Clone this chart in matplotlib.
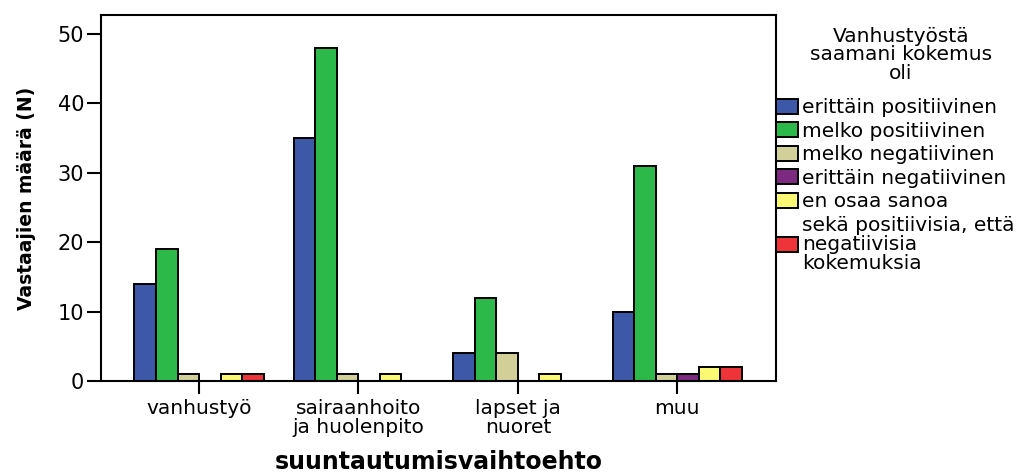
import matplotlib.pyplot as plt
import numpy as np

plt.rcParams['font.family'] = ['DejaVu Sans']

categories = ['vanhustyö', 'sairaanhoito\nja huolenpito', 'lapset ja\nnuoret', 'muu']
series = ['erittäin positiivinen', 'melko positiivinen', 'melko negatiivinen',
          'erittäin negatiivinen', 'en osaa sanoa',
          'sekä positiivisia, että\nnegatiivisia\nkokemuksia']
values = [
    [14, 35, 4, 10],   # erittäin positiivinen
    [19, 48, 12, 31],  # melko positiivinen
    [1, 1, 4, 1],      # melko negatiivinen
    [0, 0, 0, 1],      # erittäin negatiivinen
    [1, 1, 1, 2],      # en osaa sanoa
    [1, 0, 0, 2],      # sekä ... että
]
colors = ['#3E58A8', '#2DB84A', '#D3CF98', '#7B2A80', '#FBF874', '#EE3339']
legend_title = 'Vanhustyöstä\nsaamani kokemus\noli'

fig = plt.figure(figsize=(10.34, 4.73), dpi=100)
ax = fig.add_axes([0.0977, 0.1945, 0.6528, 0.7738])

x = np.arange(len(categories))
w = 0.135
for i, (name, vals, c) in enumerate(zip(series, values, colors)):
    offs = (i - 2.5) * w
    ax.bar(x + offs, vals, w, color=c, edgecolor='black', linewidth=1.4, label=name)

ax.set_xlim(-0.615, 3.62)
ax.set_ylim(0, 52.7)
ax.set_yticks([0, 10, 20, 30, 40, 50])
ax.set_xticks(x)
ax.set_xticklabels(categories, fontsize=14.5, linespacing=1.0)
ax.tick_params(axis='y', labelsize=15, length=10, width=1.5, pad=2)
ax.tick_params(axis='x', length=9, width=1.5, pad=4)
for s in ax.spines.values():
    s.set_linewidth(1.5)

ax.set_ylabel('Vastaajien määrä (N)', fontsize=13.5, fontweight='bold')
ax.yaxis.set_label_coords(-0.096, 0.5)
ax.set_xlabel('suuntautumisvaihtoehto', fontsize=17, fontweight='bold', va='center')
ax.xaxis.set_label_coords(0.5, -0.221)

# legend title drawn separately so its gap to the entries can be set
fig.text(901 / 1034, 1 - 55 / 473, legend_title, fontsize=14.5, ha='center', va='center',
         multialignment='center', linespacing=0.95)
leg = ax.legend(loc='upper left', bbox_to_anchor=(1.0, 0.772), frameon=False,
                fontsize=14.5, handlelength=1.1, handleheight=0.75,
                handletextpad=0.2, labelspacing=0.22, borderaxespad=0, borderpad=0)
for t in leg.get_texts():
    t.set_linespacing(1.0)

fig.savefig('out.png', dpi=100)
